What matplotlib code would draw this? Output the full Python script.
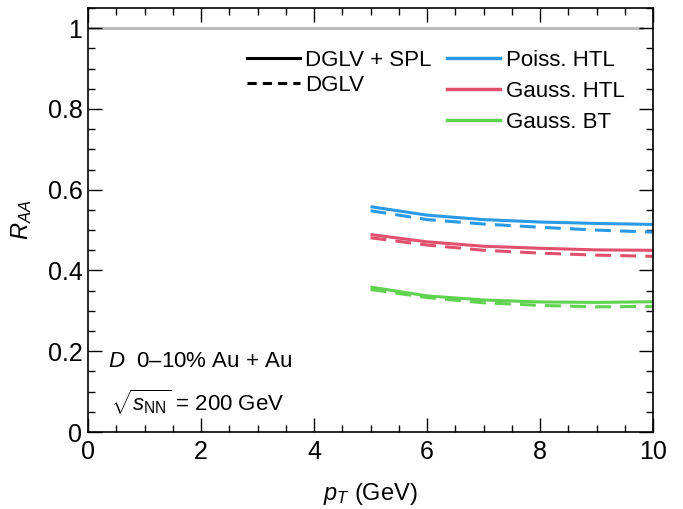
import matplotlib
matplotlib.use("Agg")
import matplotlib.pyplot as plt
from matplotlib.lines import Line2D
from matplotlib.ticker import MultipleLocator

plt.rcParams['font.family'] = ['Liberation Sans', 'DejaVu Sans']
plt.rcParams['mathtext.fontset'] = 'custom'
plt.rcParams['mathtext.rm'] = 'Liberation Sans'
plt.rcParams['mathtext.it'] = 'Liberation Sans:italic'
plt.rcParams['mathtext.bf'] = 'Liberation Sans:bold'

# D-meson R_AA vs pT, 0-10% Au+Au at 200 GeV
pt = [5, 6, 7, 8, 9, 10]
poiss_htl_spl = [0.558, 0.537, 0.526, 0.520, 0.5165, 0.514]
poiss_htl = [0.548, 0.526, 0.515, 0.507, 0.500, 0.495]
gauss_htl_spl = [0.489, 0.471, 0.460, 0.455, 0.451, 0.450]
gauss_htl = [0.481, 0.463, 0.450, 0.443, 0.438, 0.435]
gauss_bt_spl = [0.359, 0.337, 0.327, 0.322, 0.321, 0.3225]
gauss_bt = [0.353, 0.333, 0.320, 0.3135, 0.310, 0.311]

series_names = ["Poiss. HTL", "Gauss. HTL", "Gauss. BT"]
style_names = ["DGLV + SPL", "DGLV"]
x_ticks = [0, 2, 4, 6, 8, 10]
y_ticks = [0, 0.2, 0.4, 0.6, 0.8, 1]

colors = ["#2a9ae6", "#e0506e", "#5fd24f"]
dash = (0, (5.2, 3.0))
lw = 2.2

fig = plt.figure(figsize=(6.83, 5.09), dpi=100)
ax = fig.add_axes([88 / 683, (509 - 432) / 509, 565 / 683, 424 / 509])

ax.plot([0, 9.8], [1, 1], color="#bbbbbb", lw=2.2, zorder=1)

solid = [poiss_htl_spl, gauss_htl_spl, gauss_bt_spl]
dashed = [poiss_htl, gauss_htl, gauss_bt]
for c, ys, yd in zip(colors, solid, dashed):
    ax.plot(pt, ys, color=c, lw=lw, solid_capstyle="butt")
    ax.plot(pt, yd, color=c, lw=lw, ls=dash)

ax.set_xlim(0, 10)
ax.set_ylim(0, 1.05)
ax.set_xticks(x_ticks)
ax.set_xticklabels([str(v) for v in x_ticks])
ax.set_yticks(y_ticks)
ax.set_yticklabels(["0", "0.2", "0.4", "0.6", "0.8", "1"])
ax.xaxis.set_minor_locator(MultipleLocator(0.5))
ax.yaxis.set_minor_locator(MultipleLocator(0.05))
ax.tick_params(which="both", direction="in", top=True, right=True,
               labelsize=18, width=1.0)
ax.tick_params(axis="x", pad=6)
ax.tick_params(axis="y", pad=4)
ax.tick_params(which="major", length=10)
ax.tick_params(which="minor", length=5)
for s in ax.spines.values():
    s.set_linewidth(1.2)

ax.set_xlabel(r"$p_T$ (GeV)", fontsize=17, labelpad=12)
ax.set_ylabel(r"$R_{AA}$", fontsize=17, labelpad=10)

h1 = [Line2D([], [], color="black", lw=2.2),
      Line2D([], [], color="black", lw=2.2, ls=(0, (3.0, 2.0)))]
leg1 = ax.legend(h1, style_names, loc="upper left",
                 bbox_to_anchor=(0.281, 0.902), frameon=False, fontsize=16,
                 handlelength=2.4, handletextpad=0.22, borderpad=0,
                 borderaxespad=0, labelspacing=0.2)
ax.add_artist(leg1)
h2 = [Line2D([], [], color=c, lw=2.5) for c in colors]
ax.legend(h2, series_names, loc="upper left",
          bbox_to_anchor=(0.635, 0.902), frameon=False, fontsize=16,
          handlelength=2.4, handletextpad=0.25, borderpad=0,
          borderaxespad=0, labelspacing=0.45)

ax.text(0.035, 0.167, r"$D$  0–10% Au + Au", transform=ax.transAxes,
        fontsize=16, va="center", ha="left")
ax.text(0.04, 0.071, r"$\sqrt{s_{\mathrm{NN}}}$ = 200 GeV", transform=ax.transAxes,
        fontsize=16, va="center", ha="left")

fig.savefig("out.png", dpi=100)
